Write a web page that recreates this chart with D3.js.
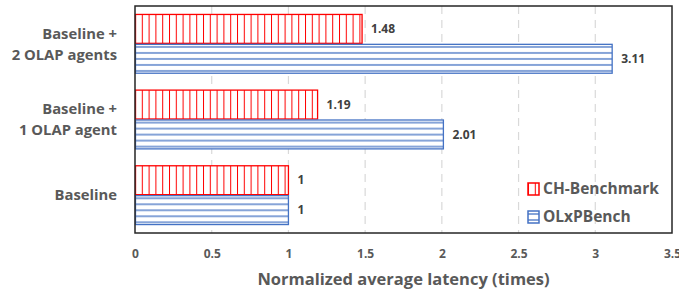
<!DOCTYPE html>
<html>
<head>
<meta charset="utf-8">
<script src="https://cdn.jsdelivr.net/npm/d3@7"></script>
<style>
  body { margin: 0; background: #fff; }
  text { font-family: "Open Sans", sans-serif; font-weight: bold; }
</style>
</head>
<body>
<svg id="svg1" width="679" height="295"></svg>
<script>
var categories = [["Baseline +", "2 OLAP agents"], ["Baseline +", "1 OLAP agent"], ["Baseline"]];
var seriesNames = ["CH-Benchmark", "OLxPBench"];
var chValues = [1.48, 1.19, 1];
var olxpValues = [3.11, 2.01, 1];
var xTicks = [0, 0.5, 1, 1.5, 2, 2.5, 3, 3.5];

var colors = ["#ff0000", "#4472c4"];

var svg = d3.select("#svg1"),
    margin = {top: 6, right: 7, bottom: 62, left: 135},
    width = +svg.attr("width") - margin.left - margin.right,
    height = +svg.attr("height") - margin.top - margin.bottom;

var defs = svg.append("defs");
var p1 = defs.append("pattern").attr("id", "vert").attr("patternUnits", "userSpaceOnUse")
    .attr("width", 6.8).attr("height", 10);
p1.append("rect").attr("width", 6.8).attr("height", 10).attr("fill", "#fff");
p1.append("line").attr("x1", 0.5).attr("x2", 0.5).attr("y1", 0).attr("y2", 10)
    .attr("stroke", colors[0]).attr("stroke-width", 1);
var p2 = defs.append("pattern").attr("id", "horiz").attr("patternUnits", "userSpaceOnUse")
    .attr("width", 10).attr("height", 6);
p2.append("rect").attr("width", 10).attr("height", 6).attr("fill", "#fff");
p2.append("line").attr("x1", 0).attr("x2", 10).attr("y1", 3).attr("y2", 3)
    .attr("stroke", colors[1]).attr("stroke-width", 1.3);

var g = svg.append("g").attr("transform", "translate(" + margin.left + "," + margin.top + ")");

var x = d3.scaleLinear().domain([0, 3.5]).range([0, width]);
var y = d3.scaleBand().domain(d3.range(categories.length)).range([0, height]).paddingInner(0.21).paddingOuter(0.105);
var ySub = d3.scaleBand().domain([0, 1]).range([0, y.bandwidth()]);

// gridlines
g.selectAll(".grid").data(xTicks.slice(1, -1)).enter().append("line")
    .attr("x1", function(d) { return x(d); }).attr("x2", function(d) { return x(d); })
    .attr("y1", 0).attr("y2", height)
    .attr("stroke", "#d9d9d9").attr("stroke-width", 1.2).attr("stroke-dasharray", "8,6");

var rows = categories.map(function(c, i) { return {i: i, vals: [chValues[i], olxpValues[i]]}; });

var groups = g.selectAll(".cat").data(rows).enter().append("g")
    .attr("transform", function(d) { return "translate(0," + y(d.i) + ")"; });

groups.selectAll("rect").data(function(d) { return d.vals; }).enter().append("rect")
    .attr("x", 0.5)
    .attr("y", function(d, j) { return ySub(j) + 0.5; })
    .attr("width", function(d) { return x(d) - 0.5; })
    .attr("height", ySub.bandwidth() - 1)
    .attr("fill", function(d, j) { return j === 0 ? "url(#vert)" : "url(#horiz)"; })
    .attr("stroke", function(d, j) { return colors[j]; })
    .attr("stroke-width", 1.3);

groups.selectAll(".val").data(function(d) { return d.vals; }).enter().append("text")
    .attr("x", function(d) { return x(d) + 9; })
    .attr("y", function(d, j) { return ySub(j) + ySub.bandwidth() / 2; })
    .attr("dy", "0.35em")
    .attr("font-size", 12)
    .attr("fill", "#404040")
    .text(function(d) { return d; });

// frame
g.append("rect").attr("x", 0).attr("y", 0).attr("width", width).attr("height", height)
    .attr("fill", "none").attr("stroke", "#262626").attr("stroke-width", 1.5);

// y labels
g.selectAll(".ylab").data(rows).enter().append("text")
    .attr("text-anchor", "end")
    .attr("font-size", 14.8)
    .attr("fill", "#595959")
    .attr("transform", function(d) { return "translate(-18," + (y(d.i) + y.bandwidth() / 2) + ")"; })
    .each(function(d) {
      var lines = categories[d.i];
      var t = d3.select(this);
      lines.forEach(function(l, k) {
        t.append("tspan").attr("x", 0)
          .attr("y", (k - (lines.length - 1) / 2) * 21)
          .attr("dy", "0.35em").text(l);
      });
    });

// x axis
var xAxis = g.append("g").attr("transform", "translate(0," + height + ")")
    .call(d3.axisBottom(x).tickValues(xTicks).tickSize(0).tickPadding(16).tickFormat(d3.format("")));
xAxis.select(".domain").remove();
xAxis.selectAll("text").attr("font-size", 12).attr("fill", "#595959")
    .style("font-family", "'Open Sans', sans-serif").style("font-weight", "bold");

svg.append("text")
    .attr("x", margin.left + width / 2)
    .attr("y", 285)
    .attr("text-anchor", "middle")
    .attr("font-size", 16.5)
    .attr("fill", "#595959")
    .text("Normalized average latency (times)");

// legend
var legend = g.selectAll(".legend").data(seriesNames).enter().append("g")
    .attr("transform", function(d, i) { return "translate(" + (528 - margin.left) + "," + (183 - margin.top + i * 28) + ")"; });
legend.append("rect").attr("width", 11).attr("height", 12)
    .attr("fill", function(d, i) { return i === 0 ? "url(#vert)" : "url(#horiz)"; })
    .attr("stroke", function(d, i) { return colors[i]; }).attr("stroke-width", 1.5);
legend.append("text").attr("x", 15).attr("y", 6).attr("dy", "0.35em")
    .attr("font-size", 15.5).attr("fill", "#595959")
    .text(function(d) { return d; });
</script>
</body>
</html>
